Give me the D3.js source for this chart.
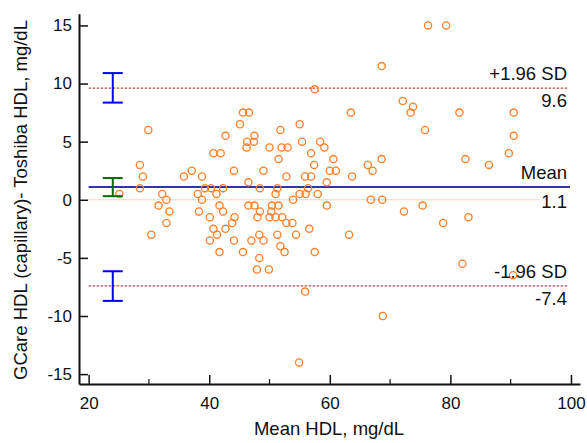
<!DOCTYPE html>
<meta charset="utf-8">
<style>
body{margin:0;background:#fff;}
svg text{font-family:"Liberation Sans",Arial,sans-serif;fill:#111;}
.axis path,.axis line{stroke:#111;}
</style>
<svg id="chart" width="587" height="443"></svg>
<script src="https://d3js.org/d3.v7.min.js"></script>
<script>
// Bland-Altman: mean of the two methods vs their difference
const meanHDL = [29.9,28.5,29.0,28.5,25.1,32.2,35.8,37.1,38.8,38.1,31.6,32.9,33.4,38.3,32.9,30.4,
  57.5,45.6,46.6,63.5,45.1,55.0,42.7,51.8,47.5,46.3,47.4,55.4,58.4,46.2,40.7,41.9,50.0,52.0,53.0,59.1,
  56.9,51.5,60.6,57.4,44.1,49.0,52.8,55.9,56.9,60.0,61.0,63.7,59.5,46.5,39.3,40.3,42.3,48.4,51.3,56.4,
  38.8,41.2,51.0,55.0,56.0,58.0,53.9,41.7,42.3,46.5,47.5,48.4,50.4,51.5,50.3,59.5,40.1,44.2,48.0,50.0,
  51.0,52.1,52.8,53.8,43.8,40.7,42.7,56.6,41.3,40.1,44.1,48.3,47.0,49.0,51.3,54.4,63.2,
  51.8,41.7,45.6,52.5,57.5,48.3,47.9,49.9,55.9,54.9,
  76.3,79.3,68.6,72.1,73.8,73.4,81.5,90.5,75.8,90.5,68.6,82.5,66.3,67.1,86.4,89.7,
  66.8,68.7,72.3,75.4,78.8,83.0,82.0,90.4,68.8]
const diffHDL = [6.0,3.0,2.0,1.0,0.5,0.5,2.0,2.5,2.0,0.5,-0.5,0.0,-1.0,-1.0,-2.0,-3.0,
  9.5,7.5,7.5,7.5,6.5,6.5,5.5,6.0,5.5,5.0,5.0,5.0,5.0,4.5,4.0,4.0,4.5,4.5,4.5,4.5,
  4.0,3.5,3.5,3.0,2.5,2.5,2.0,2.0,2.0,2.5,2.5,2.0,1.5,1.5,1.0,1.0,1.0,1.0,1.0,1.0,
  0.0,0.5,0.5,0.5,0.5,0.5,0.0,-0.5,-1.0,-0.5,-0.5,-1.0,-0.5,-0.5,-1.0,-0.5,-1.5,-1.5,-1.5,-1.5,
  -1.5,-1.5,-2.0,-2.0,-2.0,-2.5,-2.5,-2.5,-3.0,-3.5,-3.5,-3.0,-3.5,-3.5,-3.0,-3.0,-3.0,
  -4.0,-4.5,-4.5,-4.5,-4.5,-5.0,-6.0,-6.0,-7.9,-14.0,
  15.0,15.0,11.5,8.5,8.0,7.5,7.5,7.5,6.0,5.5,3.5,3.5,3.0,2.5,3.0,4.0,
  0.0,0.0,-1.0,-0.5,-2.0,-1.5,-5.5,-6.5,-10.0]

const meanDiff = 1.1
const limits = [{name: '+1.96 SD', value: 9.6}, {name: '-1.96 SD', value: -7.4}]
// confidence intervals drawn at the left edge
const ciX = 24
const ciRanges = [[8.36, 10.9], [0.31, 1.87], [-8.7, -6.15]]
const ciColors = ['#0000ff', '#0a6a0a', '#0000ff']

const xTicks = [20, 40, 60, 80, 100]
const xMinor = [30, 50, 70, 90]
const yTicks = [-15, -10, -5, 0, 5, 10, 15]

// plain hyphen for negatives, like the original
const fmt1 = d => d.toFixed(1)

const svg = d3.select('#chart')
const x = d3.scaleLinear().domain([18.4, 101.5]).range([79, 580])
const y = d3.scaleLinear().domain([-15.85, 16]).range([384, 13.8])
const lineEnd = 568

// reference lines
svg.append('line')
  .attr('x1', x(20)).attr('x2', 540)
  .attr('y1', y(0)).attr('y2', y(0))
  .attr('stroke', '#f6a870').attr('stroke-width', 1).attr('stroke-dasharray', '1,1')

svg.selectAll('line.loa').data(limits).enter().append('line').attr('class', 'loa')
  .attr('x1', x(20)).attr('x2', lineEnd)
  .attr('y1', d => y(d.value)).attr('y2', d => y(d.value))
  .attr('stroke', '#b04848').attr('stroke-width', 1.2).attr('stroke-dasharray', '2.5,1.5')

svg.append('line')
  .attr('x1', x(20)).attr('x2', 570)
  .attr('y1', y(meanDiff)).attr('y2', y(meanDiff))
  .attr('stroke', '#34349a').attr('stroke-width', 2)

// points
svg.selectAll('circle.pt').data(meanHDL).enter().append('circle').attr('class', 'pt')
  .attr('cx', d => x(d)).attr('cy', (d, i) => y(diffHDL[i]))
  .attr('r', 3.6)
  .attr('fill', 'none').attr('stroke', '#ff7f27').attr('stroke-width', 1.3)

// CI error bars
const ci = svg.selectAll('g.ci').data(ciRanges).enter().append('g').attr('class', 'ci')
  .attr('stroke', (d, i) => ciColors[i]).attr('stroke-width', 2)
ci.append('line').attr('x1', x(ciX)).attr('x2', x(ciX)).attr('y1', d => y(d[0])).attr('y2', d => y(d[1]))
ci.append('line').attr('x1', x(ciX) - 10).attr('x2', x(ciX) + 10).attr('y1', d => y(d[0])).attr('y2', d => y(d[0]))
ci.append('line').attr('x1', x(ciX) - 10).attr('x2', x(ciX) + 10).attr('y1', d => y(d[1])).attr('y2', d => y(d[1]))

// labels on the right
const labelFont = '18.5px'
limits.forEach(l => {
  svg.append('text').attr('x', 567).attr('y', y(l.value) - 8)
    .attr('text-anchor', 'end').style('font-size', labelFont).text(l.name)
  svg.append('text').attr('x', 567).attr('y', y(l.value) + 19)
    .attr('text-anchor', 'end').style('font-size', labelFont).text(fmt1(l.value))
})
svg.append('text').attr('x', 567).attr('y', y(meanDiff) - 8)
  .attr('text-anchor', 'end').style('font-size', labelFont).text('Mean')
svg.append('text').attr('x', 567).attr('y', y(meanDiff) + 21)
  .attr('text-anchor', 'end').style('font-size', labelFont).text(fmt1(meanDiff))

// axes, ticks pointing inward
const xAxis = svg.append('g').attr('class', 'axis').attr('transform', 'translate(0,384)')
  .call(d3.axisBottom(x).tickValues(xTicks).tickFormat(d => String(d)).tickSize(-9).tickSizeOuter(0).tickPadding(13))
xAxis.selectAll('.tick line').attr('stroke-width', 1.5)
xAxis.selectAll('.tick text').style('font-size', '17px').attr('fill', '#111')
xAxis.selectAll('line.minor').data(xMinor).enter().append('line').attr('class', 'minor')
  .attr('x1', d => x(d)).attr('x2', d => x(d)).attr('y1', 0).attr('y2', -5)
  .attr('stroke', '#111').attr('stroke-width', 1.2)

const yAxis = svg.append('g').attr('class', 'axis').attr('transform', 'translate(79,0)')
  .call(d3.axisLeft(y).tickValues(yTicks).tickFormat(d => String(d)).tickSize(-9).tickSizeOuter(0).tickPadding(7))
yAxis.selectAll('.tick line').attr('stroke-width', 1.5)
yAxis.selectAll('.tick text').style('font-size', '17px').attr('fill', '#111')

svg.selectAll('.axis path.domain').attr('stroke-width', 2)

// axis titles
svg.append('text').attr('x', 329).attr('y', 435).attr('text-anchor', 'middle')
  .style('font-size', '18.5px').text('Mean HDL, mg/dL')
svg.append('text').attr('transform', 'translate(27,200) rotate(-90)').attr('text-anchor', 'middle')
  .style('font-size', '18.5px').text('GCare HDL (capillary)- Toshiba HDL, mg/dL')
</script>
